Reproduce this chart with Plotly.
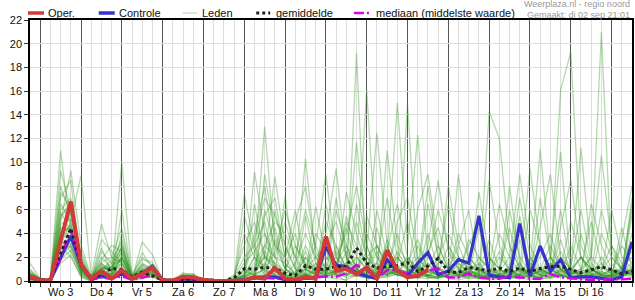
import plotly.graph_objects as go
import pandas as pd

# ---------------- data ----------------
times = pd.date_range("2025-09-02 18:00", periods=60, freq="6h")
day_starts = pd.date_range("2025-09-03", "2025-09-17", freq="D")
day_labels = ["Wo 3", "Do 4", "Vr 5", "Za 6", "Zo 7", "Ma 8", "Di 9", "Wo 10",
              "Do 11", "Vr 12", "Za 13", "Zo 14", "Ma 15", "Di 16"]
y_ticks = [0, 2, 4, 6, 8, 10, 12, 14, 16, 18, 20, 22]

oper = [0.4, 0.05, 0.05, 3.4, 6.7, 1.4, 0.2, 0.85, 0.2, 0.9, 0.2, 0.6, 1.15,
        0.05, 0.05, 0.35, 0.3, 0.1, 0.0, 0.0, 0.0, 0.05, 0.3, 0.2, 1.1, 0.2,
        0.08, 0.35, 0.2, 3.75, 0.85, 1.05, 0.55, 1.15, 0.2, 2.6, 0.9, 0.3,
        0.45, 0.95]

controle = [0.3, 0.05, 0.05, 1.9, 3.8, 1.3, 0.15, 0.4, 0.2, 0.6, 0.2, 0.65,
            1.25, 0.05, 0.05, 0.2, 0.15, 0.05, 0.0, 0.0, 0.0, 0.1, 0.3, 0.3,
            0.35, 0.1, 0.05, 0.25, 0.2, 2.9, 1.35, 1.2, 0.65, 0.4, 0.2, 1.8,
            0.85, 0.45, 1.5, 2.4, 0.55, 0.85, 1.8, 1.5, 5.5, 0.5, 0.35, 0.28,
            4.85, 0.4, 2.95, 0.8, 1.8, 0.28, 0.35, 0.35, 0.2, 0.1, 0.35, 3.3]

gemiddelde = [0.35, 0.1, 0.1, 2.3, 4.45, 1.4, 0.2, 0.6, 1.05, 0.95, 0.35,
              0.75, 0.45, 0.1, 0.05, 0.15, 0.15, 0.1, 0.02, 0.02, 0.25, 1.05,
              1.0, 1.15, 1.05, 0.65, 0.45, 1.3, 1.0, 1.0, 1.2, 1.2, 2.8, 1.5,
              1.1, 1.2, 1.3, 1.55, 0.8, 1.25, 1.9, 0.8, 0.7, 1.15, 1.0, 0.85,
              1.1, 0.8, 1.1, 0.8, 1.05, 1.2, 1.25, 1.0, 0.7, 0.95, 1.2, 0.95,
              0.6, 0.8]

mediaan = [0.25, 0.05, 0.05, 2.0, 4.3, 1.3, 0.1, 0.3, 0.2, 0.4, 0.1, 0.3, 0.5,
           0.05, 0.02, 0.1, 0.1, 0.02, 0.0, 0.0, 0.05, 0.15, 0.2, 0.25, 0.2,
           0.1, 0.1, 0.2, 0.3, 0.4, 0.35, 0.65, 1.35, 0.9, 0.2, 0.9, 0.9,
           0.65, 0.35, 0.9, 1.05, 0.3, 0.3, 0.65, 0.3, 0.2, 0.2, 0.4, 0.3,
           0.2, 0.2, 0.6, 0.3, 0.2, 0.15, 0.1, 0.1, 0.1, 0.15, 0.2]

leden = [
    [0.5, 0.1, 0.1, 11.0, 4.0, 1.0, 0.2, 0.5, 1.0, 0.5, 0.1, 0.3, 0.8, 0, 0, 0.3, 0.2, 0, 0, 0, 0,
     0.5, 2.0, 13.0, 3.0, 1.0, 0.5, 2.0, 1.0, 0.8, 1.5, 3.0, 1.0, 0.5, 1.2, 0.8, 2.0, 1.0, 0.6, 1.5, 0.4,
     0.3, 0.8, 2.0, 1.0, 0.5, 0.2, 1.0, 0.5, 0.3, 1.0, 0.6, 2.5, 1.0, 0.4, 0.8, 1.5, 0.6, 1.2, 2.0],
    [1.5, 0.2, 0.0, 9.3, 6.0, 2.0, 0.1, 1.2, 0.8, 2.0, 0.3, 1.0, 0.6, 0.1, 0, 0.5, 0.6, 0, 0, 0, 0.2,
     7.3, 3.0, 1.0, 0.5, 0.2, 0.1, 0.5, 6.3, 2.0, 1.0, 0.5, 1.5, 16.1, 2.0, 1.0, 0.5, 0.8, 1.5, 0.3, 0.2,
     1.0, 3.0, 0.8, 0.4, 0.3, 0.2, 0.5, 1.0, 0.5, 0.3, 1.5, 1.0, 0.8, 2.0, 1.0, 0.5, 1.0, 0.4, 0.6],
    [0.3, 0, 0, 5.0, 9.3, 3.0, 0.3, 4.8, 2.0, 1.5, 0.2, 0.5, 1.2, 0, 0, 0, 0.1, 0, 0, 0, 0.1,
     0.5, 9.2, 4.0, 2.0, 0.5, 0.2, 1.0, 0.5, 0.3, 0.8, 0.4, 1.0, 2.5, 12.5, 3.0, 1.0, 0.5, 0.3, 0.8, 1.2,
     0.4, 0.2, 1.5, 0.6, 0.3, 0.5, 0.2, 0.8, 1.0, 11.1, 2.0, 0.5, 0.2, 0.5, 1.0, 0.3, 0.4, 0.8, 4.0],
    [0.8, 0.1, 0.2, 3.0, 5.0, 8.9, 0.5, 1.0, 0.5, 10.0, 0.5, 0.8, 1.0, 0.2, 0.1, 0.4, 0.3, 0, 0, 0, 0,
     0.3, 1.0, 2.0, 8.8, 3.0, 1.0, 0.5, 0.3, 1.0, 0.5, 0.0, 19.2, 0.0, 0.8, 0.5, 1.0, 2.0, 1.0, 0.5, 0.3,
     0.8, 1.2, 0.5, 0.2, 0.6, 0.3, 0.8, 1.5, 0.2, 0.5, 0.8, 2.0, 1.0, 2.0, 1.0, 0.5, 0.3, 0.5, 1.0],
    [0.2, 0, 0.1, 4.0, 3.5, 1.5, 0, 2.5, 1.5, 3.5, 0.2, 3.3, 2.2, 0, 0, 0.7, 0.4, 0, 0, 0, 0,
     0.2, 0.5, 1.0, 0.5, 7.2, 1.0, 10.3, 2.0, 0.5, 1.0, 1.5, 11.7, 3.0, 1.0, 0.5, 0.8, 14.9, 1.0, 0.5, 0.3,
     0.5, 2.0, 1.0, 0.5, 1.0, 0.5, 0.3, 0.2, 0.5, 0.8, 2.0, 1.0, 0.3, 0.5, 0.2, 0.8, 0.5, 1.0, 0.8],
    [0.1, 0, 0, 2.5, 4.5, 1.0, 0.2, 1.8, 3.0, 2.5, 0.1, 1.5, 1.0, 0.1, 0, 0.2, 0.3, 0, 0, 0, 0.5,
     3.0, 5.0, 2.0, 1.5, 0.5, 0.3, 1.0, 2.0, 3.0, 5.0, 2.0, 1.0, 0.5, 1.0, 2.0, 15.0, 3.0, 12.3, 2.0, 1.0,
     0.5, 1.0, 0.5, 0.3, 14.3, 12.0, 3.0, 1.0, 0.5, 0.8, 1.5, 0.5, 0.3, 0.2, 0.5, 1.0, 2.0, 1.0, 0.5],
    [0.4, 0.1, 0, 6.0, 7.0, 0.8, 0.1, 0.5, 0.3, 1.0, 0.3, 0.6, 0.5, 0, 0, 0.2, 0.1, 0, 0, 0, 0,
     0, 0.5, 6.0, 3.0, 2.0, 6.0, 1.0, 0.5, 0.8, 2.0, 1.0, 0.5, 1.0, 0.5, 11.0, 3.0, 1.5, 0.8, 0.5, 2.0,
     4.0, 2.0, 1.0, 0.5, 0.3, 0.5, 1.0, 0.8, 0.5, 0.2, 1.0, 16.1, 19.3, 3.0, 1.0, 0.5, 0.3, 0.5, 0.8],
    [0.6, 0.2, 0.1, 8.0, 5.5, 2.5, 0.3, 1.5, 0.8, 4.0, 0.5, 2.0, 1.3, 0.1, 0, 0.3, 0.2, 0, 0, 0, 0.1,
     1.0, 4.0, 8.0, 2.0, 1.5, 0.5, 3.0, 1.0, 2.0, 1.5, 0.5, 1.0, 2.0, 3.0, 1.5, 0.8, 0.5, 1.0, 8.0, 2.0,
     1.0, 0.5, 0.3, 0.8, 2.0, 0.5, 0.3, 0.2, 1.0, 0.5, 2.0, 10.9, 1.0, 11.2, 2.0, 10.6, 3.0, 1.0, 0.5],
    [0, 0, 0, 3.5, 2.5, 0.5, 0, 0.3, 0.2, 0.5, 0, 0.2, 0.4, 0, 0, 0, 0, 0, 0, 0, 0,
     0, 0.2, 0.5, 0.3, 0.1, 0, 0.2, 0.4, 0.3, 0.2, 0.1, 0.5, 0.2, 0.3, 0.8, 0.5, 0.3, 0.2, 0.5, 0.8,
     0.2, 0.1, 0.3, 0.2, 0.1, 0.2, 0.4, 0.3, 0.1, 0.3, 0.2, 0.5, 0.2, 0.1, 0.2, 0.4, 0.2, 0.1, 0.3],
    [0.2, 0, 0.1, 4.5, 4.0, 1.2, 0.2, 0.8, 1.2, 2.0, 0.4, 1.0, 0.8, 0.1, 0, 0.1, 0.2, 0, 0, 0, 0,
     0.5, 1.5, 3.0, 5.0, 4.0, 2.0, 6.0, 3.0, 1.0, 0.5, 1.0, 2.0, 1.0, 1.5, 0.5, 2.5, 1.0, 2.0, 1.0, 0.5,
     0.3, 0.8, 3.0, 5.0, 2.0, 1.0, 0.5, 0.5, 0.8, 2.0, 4.0, 1.0, 0.5, 1.0, 2.0, 21.0, 1.5, 0.5, 0.8],
    [1.0, 0.1, 0, 7.0, 8.5, 1.0, 0.2, 0.6, 0.5, 6.0, 0.3, 1.2, 0.8, 0.1, 0, 0.4, 0.5, 0, 0, 0, 0.3,
     2.0, 3.0, 5.0, 1.0, 0.5, 0.3, 0.5, 1.0, 5.0, 3.0, 1.0, 0.5, 0.8, 1.0, 3.0, 1.0, 0.5, 3.0, 1.0, 0.4,
     0.8, 0.5, 1.0, 0.3, 0.5, 4.0, 2.0, 0.8, 0.4, 0.6, 1.0, 0.5, 3.0, 1.0, 0.5, 0.3, 0.5, 1.0, 6.0],
    [0.3, 0, 0, 2.0, 3.0, 0.6, 0.1, 3.5, 2.5, 1.5, 0.2, 0.8, 0.5, 0, 0, 0.2, 0.1, 0, 0, 0, 0,
     0.1, 0.5, 1.0, 6.0, 2.0, 4.0, 1.0, 0.5, 0.3, 6.0, 3.0, 1.0, 0.5, 0.8, 1.5, 0.6, 2.0, 1.0, 0.3, 1.5,
     6.5, 2.0, 0.5, 0.3, 0.6, 2.0, 1.0, 7.0, 2.0, 1.0, 0.5, 0.8, 0.4, 0.3, 0.8, 1.2, 0.6, 3.0, 1.5],
    [0.7, 0.2, 0.1, 5.5, 6.5, 0.8, 0.3, 2.0, 1.0, 3.0, 0.2, 0.6, 1.0, 0.2, 0, 0.5, 0.4, 0, 0, 0, 0.1,
     4.0, 2.0, 0.5, 0.3, 0.5, 1.5, 4.0, 2.0, 1.0, 0.8, 5.0, 3.0, 1.5, 0.5, 0.8, 4.0, 1.0, 0.5, 2.0, 6.0,
     3.0, 1.0, 0.5, 0.2, 0.5, 0.3, 6.0, 2.0, 0.8, 0.5, 0.3, 1.0, 5.0, 2.0, 0.5, 0.8, 0.4, 0.6, 1.0],
    [0.1, 0, 0, 3.0, 2.0, 0.4, 0, 0.4, 0.6, 0.8, 0.1, 0.4, 0.9, 0, 0, 0.1, 0, 0, 0, 0, 0,
     0.2, 6.5, 2.0, 1.0, 0.3, 0.1, 0.8, 4.0, 2.5, 1.0, 4.5, 1.0, 0.5, 6.0, 2.0, 0.5, 0.3, 0.5, 1.0, 3.0,
     1.0, 0.6, 0.4, 4.5, 0.8, 0.3, 0.2, 0.5, 6.0, 3.0, 1.0, 0.5, 0.3, 4.0, 1.0, 0.5, 0.8, 0.5, 7.0],
    [0.4, 0.1, 0.2, 4.2, 3.8, 1.8, 0.2, 1.0, 1.5, 2.8, 0.3, 1.8, 1.6, 0.1, 0, 0.3, 0.5, 0, 0, 0, 0,
     1.0, 0.5, 9.0, 4.0, 1.0, 0.5, 2.0, 0.5, 1.0, 1.5, 0.8, 5.0, 2.0, 1.0, 0.5, 1.0, 0.8, 0.5, 4.0, 1.0,
     0.5, 9.0, 1.5, 0.8, 0.5, 1.0, 0.5, 0.3, 0.4, 1.0, 3.0, 1.0, 0.8, 0.5, 0.4, 4.0, 2.0, 1.0, 0.5],
    [0.2, 0, 0, 3.8, 4.8, 1.2, 0.1, 0.8, 0.6, 1.0, 0.1, 0.5, 0.6, 0, 0, 0.1, 0.2, 0, 0, 0, 0,
     0, 0.3, 3.0, 2.0, 5.0, 2.0, 0.5, 1.0, 0.4, 3.0, 1.0, 0.5, 4.0, 2.0, 0.8, 0.5, 0.4, 0.8, 1.5, 0.5,
     0.3, 0.5, 0.8, 0.6, 3.5, 1.0, 0.4, 1.0, 0.5, 3.0, 0.5, 6.0, 1.0, 0.5, 0.3, 0.2, 0.5, 4.5, 1.0],
    [0.5, 0.1, 0.1, 6.5, 5.0, 1.4, 0.3, 1.5, 0.4, 2.2, 0.2, 0.7, 1.1, 0.1, 0, 0.2, 0.3, 0, 0, 0, 0.2,
     1.5, 2.5, 4.0, 0.8, 0.3, 0.8, 0.3, 0.5, 4.0, 9.5, 2.0, 0.8, 0.5, 0.3, 3.5, 1.5, 5.0, 1.0, 0.3, 0.2,
     0.5, 0.8, 0.5, 2.0, 1.0, 0.5, 8.0, 1.5, 0.5, 0.3, 0.8, 1.0, 0.5, 0.8, 2.0, 1.0, 3.0, 1.5, 0.5],
    [0.9, 0.2, 0.1, 2.8, 3.2, 0.7, 0.2, 1.1, 0.9, 1.8, 0.2, 0.9, 1.4, 0.2, 0, 0.6, 0.6, 0, 0, 0, 0,
     0.8, 0.5, 0.3, 3.5, 1.0, 0.4, 5.5, 1.5, 0.6, 0.8, 0.5, 1.0, 0.4, 4.5, 1.0, 0.8, 1.5, 3.5, 1.0, 0.5,
     0.4, 0.3, 0.5, 1.0, 0.3, 0.6, 1.2, 5.5, 1.0, 0.5, 0.3, 0.4, 0.6, 1.0, 5.0, 1.5, 0.5, 1.0, 2.5],
    [0.3, 0, 0, 1.5, 2.2, 0.3, 0, 0.6, 1.0, 1.2, 0.1, 0.3, 0.3, 0, 0, 0.1, 0.1, 0, 0, 0, 0,
     0.1, 0.2, 0.6, 0.4, 0.2, 0.3, 0.4, 0.8, 0.5, 0.3, 0.6, 0.4, 0.3, 0.2, 0.4, 0.6, 0.5, 0.3, 0.2, 0.4,
     0.3, 0.5, 0.2, 0.3, 0.2, 0.4, 0.3, 0.6, 0.4, 0.2, 0.3, 0.5, 0.2, 0.4, 0.3, 0.2, 0.3, 0.5, 0.4],
    [0.6, 0.1, 0.1, 5.8, 4.2, 1.6, 0.2, 0.9, 1.8, 3.2, 0.3, 1.1, 0.7, 0.1, 0, 0.4, 0.2, 0, 0, 0, 0,
     0.4, 1.2, 2.5, 1.5, 0.8, 3.0, 1.2, 0.6, 1.2, 0.6, 2.5, 1.2, 0.8, 2.5, 0.6, 1.2, 0.6, 0.4, 2.5, 4.5,
     1.2, 0.5, 0.8, 1.5, 0.6, 2.5, 0.8, 0.5, 1.5, 0.8, 0.5, 0.3, 0.8, 2.0, 0.6, 0.4, 0.5, 0.8, 1.2],
    [0.2, 0, 0.1, 4.8, 5.2, 2.2, 0.1, 0.7, 0.4, 2.0, 0.2, 0.5, 0.8, 0, 0, 0.2, 0.1, 0, 0, 0, 0,
     0.6, 3.5, 7.0, 5.5, 3.0, 1.0, 0.5, 0.3, 6.5, 2.0, 4.0, 8.0, 3.0, 0.5, 1.0, 2.0, 0.8, 6.0, 9.0, 3.0,
     1.0, 0.4, 0.8, 7.5, 2.0, 1.0, 4.5, 1.0, 9.5, 3.0, 1.0, 0.5, 0.8, 0.5, 6.5, 3.0, 1.0, 0.5, 5.5],
    [0.4, 0.1, 0, 3.3, 2.8, 0.9, 0.1, 2.8, 0.7, 2.6, 0.2, 0.9, 0.9, 0.1, 0, 0.3, 0.3, 0, 0, 0, 0.1,
     0.3, 0.8, 1.5, 0.8, 0.6, 5.0, 8.0, 2.5, 1.0, 7.0, 2.0, 0.6, 5.5, 3.0, 1.0, 0.5, 0.4, 0.8, 3.0, 8.5,
     2.5, 1.0, 0.5, 0.4, 8.5, 3.0, 1.0, 0.5, 0.3, 7.0, 2.0, 1.0, 0.5, 0.3, 0.8, 6.0, 2.5, 1.0, 0.6],
    [0.3, 0, 0, 2.2, 3.5, 0.5, 0.1, 1.3, 1.1, 1.4, 0.1, 0.4, 0.6, 0, 0, 0.2, 0.2, 0, 0, 0, 0,
     0.2, 0.4, 5.5, 7.0, 2.0, 0.5, 1.0, 3.0, 9.0, 2.0, 1.0, 0.8, 0.6, 1.5, 7.0, 2.0, 1.0, 0.5, 0.4, 1.0,
     8.0, 3.0, 6.0, 1.0, 0.5, 0.8, 2.0, 9.0, 3.0, 1.0, 0.6, 4.5, 8.5, 2.0, 1.0, 0.5, 0.5, 3.5, 8.0],
    [0.5, 0.1, 0.1, 5.2, 6.8, 1.1, 0.2, 0.6, 0.5, 1.6, 0.3, 1.4, 1.0, 0.1, 0, 0.3, 0.4, 0, 0, 0, 0,
     0.4, 0.6, 1.0, 2.5, 6.0, 3.0, 1.5, 0.8, 0.5, 0.6, 7.5, 4.0, 1.0, 0.6, 0.5, 5.0, 7.0, 2.0, 0.8, 0.5,
     0.6, 4.0, 2.0, 1.0, 0.5, 0.3, 1.0, 3.5, 0.8, 4.5, 9.0, 2.0, 1.0, 0.5, 0.3, 0.5, 6.0, 2.0, 1.0],
    [0.2, 0, 0, 1.8, 2.6, 0.6, 0.1, 0.9, 1.3, 2.4, 0.1, 0.6, 0.5, 0, 0, 0.1, 0.2, 0, 0, 0, 0,
     0.1, 0.3, 0.8, 0.6, 0.4, 0.2, 0.6, 1.5, 0.8, 0.4, 1.2, 0.6, 1.0, 0.4, 0.5, 0.8, 0.6, 1.2, 0.5, 0.3,
     0.5, 1.5, 0.6, 0.4, 0.3, 0.5, 0.8, 0.4, 1.2, 0.5, 0.4, 0.6, 0.3, 0.6, 1.0, 0.5, 0.4, 0.6, 0.9],
    [0.7, 0.1, 0.1, 4.0, 4.6, 1.3, 0.2, 1.6, 2.0, 4.5, 0.3, 2.4, 1.1, 0.1, 0, 0.4, 0.3, 0, 0, 0, 0.1,
     0.5, 2.0, 1.2, 4.5, 1.5, 0.6, 0.4, 0.8, 1.5, 0.5, 5.5, 2.0, 1.0, 3.0, 1.2, 0.6, 0.5, 0.4, 1.0, 0.6,
     0.8, 0.5, 3.5, 2.0, 1.0, 6.5, 3.0, 1.0, 0.6, 0.8, 1.0, 0.4, 1.2, 6.0, 1.5, 0.6, 0.4, 0.8, 1.5],
    [0.4, 0.1, 0, 3.6, 5.8, 0.9, 0.2, 0.5, 0.7, 1.1, 0.2, 0.6, 0.7, 0, 0, 0.2, 0.1, 0, 0, 0, 0,
     0.3, 0.7, 2.0, 1.0, 0.6, 0.4, 2.5, 0.6, 0.4, 1.0, 0.6, 6.5, 2.0, 1.0, 0.6, 0.8, 0.3, 0.6, 6.5, 2.0,
     1.0, 0.3, 0.8, 0.6, 0.4, 0.6, 0.4, 1.2, 0.5, 0.8, 0.6, 3.5, 0.7, 0.4, 0.6, 0.5, 0.4, 0.7, 6.5],
    [0.6, 0.2, 0.1, 7.5, 6.2, 1.7, 0.3, 1.2, 0.9, 2.9, 0.4, 1.3, 0.9, 0.2, 0, 0.3, 0.3, 0, 0, 0, 0,
     5.5, 2.5, 0.8, 0.5, 0.3, 0.2, 0.6, 0.4, 0.6, 2.5, 1.2, 0.8, 0.4, 0.5, 2.5, 6.5, 2.0, 0.8, 0.4, 0.6,
     3.0, 1.5, 0.6, 0.4, 1.0, 0.6, 0.8, 0.5, 2.0, 0.6, 0.4, 0.8, 0.6, 0.8, 0.4, 2.0, 0.8, 0.5, 1.0],
    [0.3, 0, 0.1, 2.6, 3.0, 0.8, 0.1, 0.7, 0.6, 0.9, 0.2, 0.4, 0.6, 0, 0, 0.1, 0.1, 0, 0, 0, 0,
     0.2, 0.4, 0.3, 0.8, 0.2, 0.1, 0.5, 0.3, 0.4, 0.6, 0.3, 0.5, 0.8, 0.4, 0.3, 0.6, 0.2, 0.5, 0.4, 0.3,
     0.6, 0.3, 0.4, 0.5, 0.3, 0.2, 0.6, 0.4, 0.5, 0.3, 0.6, 0.4, 0.3, 0.2, 0.5, 0.3, 0.2, 0.4, 0.6],
    [0.5, 0.1, 0.1, 4.4, 4.4, 1.0, 0.2, 1.0, 1.2, 1.9, 0.2, 0.8, 1.0, 0.1, 0, 0.3, 0.2, 0, 0, 0, 0,
     0.4, 0.9, 2.2, 1.2, 0.8, 0.5, 1.2, 1.0, 0.6, 0.8, 1.5, 0.7, 1.2, 0.7, 1.0, 0.9, 0.8, 1.2, 0.7, 1.0,
     0.9, 0.6, 1.2, 0.8, 0.6, 0.9, 0.7, 1.0, 0.8, 1.0, 0.6, 0.9, 0.7, 0.8, 1.1, 0.6, 0.9, 0.7, 1.0],
]

for k, m in enumerate(leden):
    assert len(m) == 60, (k, len(m))

# ---------------- styles ----------------
FONT = "Liberation Sans, Arial, sans-serif"
RED = "#d23a3a"
BLUE = "#3434cc"
GREEN = "rgba(50,150,30,0.36)"
BLACK = "#222222"
MAGENTA = "#dd00ee"
MED_DASH = "10px,3px,2px,3px"

W, H = 635, 300
ML, MR, MT, MB = 30, 1, 20, 19
PW, PH = W - ML - MR, H - MT - MB


def px_x(px):
    return (px - ML) / PW


def px_y(py):
    return (H - MB - py) / PH


fig = go.Figure()
for m in leden:
    fig.add_trace(go.Scatter(x=times[:len(m)], y=m, mode="lines",
                             line=dict(color=GREEN, width=1.3),
                             hoverinfo="skip", showlegend=False))
fig.add_trace(go.Scatter(x=times[:len(controle)], y=controle, mode="lines",
                         line=dict(color=BLUE, width=3.2), name="Controle"))
fig.add_trace(go.Scatter(x=times[:len(mediaan)], y=mediaan, mode="lines",
                         line=dict(color=MAGENTA, width=2.5, dash=MED_DASH),
                         name="mediaan"))
fig.add_trace(go.Scatter(x=times[:len(gemiddelde)], y=gemiddelde, mode="lines",
                         line=dict(color=BLACK, width=3, dash="dot"),
                         name="gemiddelde"))
fig.add_trace(go.Scatter(x=times[:len(oper)], y=oper, mode="lines",
                         line=dict(color=RED, width=4), name="Oper."))

# ---------------- manual legend ----------------
legend_items = [
    ("Oper.", 28, 44, 47, dict(color=RED, width=3.5)),
    ("Controle", 99, 115, 118, dict(color=BLUE, width=3.5)),
    ("Leden", 183, 198, 202, dict(color="rgba(50,150,30,0.4)", width=1)),
    ("gemiddelde", 257, 271, 276, dict(color=BLACK, width=3, dash="dot")),
    ("mediaan (middelste waarde)", 355, 371, 376,
     dict(color=MAGENTA, width=2.5, dash=MED_DASH)),
]
shapes = []
annotations = []
LEG_Y = 13
for label, x0, x1, tx, ln in legend_items:
    shapes.append(dict(type="line", xref="paper", yref="paper",
                       x0=px_x(x0), x1=px_x(x1), y0=px_y(LEG_Y), y1=px_y(LEG_Y),
                       line=ln))
    annotations.append(dict(text=label, xref="paper", yref="paper",
                            x=px_x(tx - 1), y=px_y(LEG_Y), xanchor="left",
                            yanchor="middle", showarrow=False,
                            font=dict(family=FONT, size=11, color="#111")))

annotations.append(dict(text="Weerplaza.nl - regio noord", xref="paper", yref="paper",
                        x=px_x(634), y=px_y(4), xanchor="right", yanchor="middle",
                        showarrow=False, font=dict(family=FONT, size=9, color="#999")))
annotations.append(dict(text="Gemaakt: di 02 sep 21:01", xref="paper", yref="paper",
                        x=px_x(634), y=px_y(14.5), xanchor="right", yanchor="middle",
                        showarrow=False, font=dict(family=FONT, size=9, color="#999")))

# day labels at noon
for d, lab in zip(day_starts, day_labels):
    annotations.append(dict(text=lab, xref="x", yref="paper",
                            x=d + pd.Timedelta(hours=12), y=px_y(292),
                            xanchor="center", yanchor="middle", showarrow=False,
                            font=dict(family=FONT, size=11, color="#111")))

fig.update_layout(
    width=W, height=H,
    margin=dict(l=ML, r=MR, t=MT, b=MB, pad=0),
    plot_bgcolor="white", paper_bgcolor="white",
    showlegend=False,
    font=dict(family=FONT, size=11, color="#111"),
    shapes=shapes, annotations=annotations,
    xaxis=dict(type="date", range=[times[0], times[-1]],
               tickmode="array", tickvals=list(day_starts), showticklabels=False,
               ticks="outside", ticklen=4, tickcolor="#333", tickwidth=1,
               showgrid=True, gridcolor="#555555", gridwidth=1,
               showline=True, linecolor="black", linewidth=1.5, mirror=True,
               zeroline=False,
               minor=dict(tickmode="linear", tick0=times[0], dtick=6 * 3600 * 1000,
                          ticks="outside", ticklen=4, tickcolor="#333", tickwidth=1,
                          showgrid=True, gridcolor="#dddddd", gridwidth=1)),
    yaxis=dict(range=[0, 22], tickmode="array", tickvals=y_ticks,
               ticks="outside", ticklen=4, tickcolor="#333",
               showgrid=True, gridcolor="#dddddd", gridwidth=1,
               showline=True, linecolor="black", linewidth=1.5, mirror=True,
               zeroline=False, tickfont=dict(family=FONT, size=11, color="#111")),
)

fig.write_html("out.html")
